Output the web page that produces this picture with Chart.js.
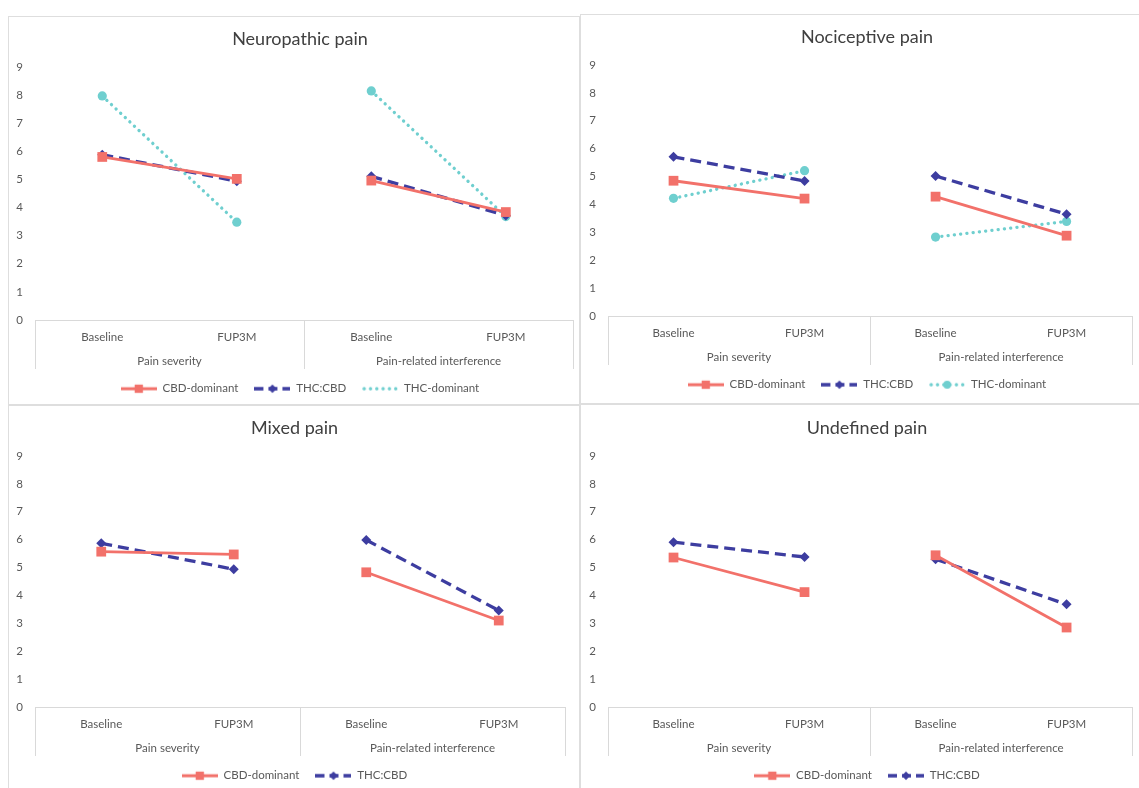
<!DOCTYPE html>
<html><head><meta charset="utf-8">
<script src="https://cdn.jsdelivr.net/npm/chart.js@4.4.1/dist/chart.umd.min.js"></script>
<style>
html,body{margin:0;padding:0;background:#fff;width:1139px;height:788px;overflow:hidden;}
.panel{position:absolute;}
.frame{position:absolute;left:0;top:0;right:0;bottom:0;border:1px solid #dedede;pointer-events:none;}
canvas{position:absolute;left:0;top:0;}
</style></head><body>
<div class="panel" style="left:8px;top:16px;width:572px;height:389px"><canvas id="c0" width="572" height="389"></canvas><div class="frame"></div></div>
<div class="panel" style="left:580px;top:14px;width:560px;height:390px"><canvas id="c1" width="559" height="390"></canvas><div class="frame"></div></div>
<div class="panel" style="left:8px;top:405px;width:572px;height:390px"><canvas id="c2" width="572" height="390"></canvas><div class="frame"></div></div>
<div class="panel" style="left:580px;top:404px;width:560px;height:390px"><canvas id="c3" width="559" height="390"></canvas><div class="frame"></div></div>
<script>
// ---- data ----
const categories = ['Baseline', 'FUP3M', 'Baseline', 'FUP3M'];
const groupLabels = ['Pain severity', 'Pain-related interference'];
const panelTitles = ['Neuropathic pain', 'Nociceptive pain', 'Mixed pain', 'Undefined pain'];
const yTicks = [0, 1, 2, 3, 4, 5, 6, 7, 8, 9];

const neuropathicCBD    = [5.80, 5.02, 4.96, 3.84];
const neuropathicTHCCBD = [5.88, 4.94, 5.11, 3.72];
const neuropathicTHC    = [7.97, 3.48, 8.15, 3.68];

const nociceptiveCBD    = [4.85, 4.21, 4.28, 2.88];
const nociceptiveTHCCBD = [5.71, 4.84, 5.02, 3.65];
const nociceptiveTHC    = [4.22, 5.21, 2.83, 3.39];

const mixedCBD    = [5.57, 5.47, 4.83, 3.10];
const mixedTHCCBD = [5.87, 4.94, 5.99, 3.46];

const undefinedCBD    = [5.36, 4.12, 5.44, 2.85];
const undefinedTHCCBD = [5.91, 5.38, 5.30, 3.68];

// ---- styles ----
const STYLE = {
  'CBD-dominant': {color: '#F2716A', dash: [], width: 2.8, cap: 'butt', point: 'rect', radius: 6.9},
  'THC:CBD':      {color: '#3D3DA0', dash: [11, 6], width: 3.3, cap: 'butt', point: 'rectRot', radius: 5},
  'THC-dominant': {color: '#6FCFCF', dash: [0.1, 6.2], width: 3.3, cap: 'round', point: 'circle', radius: 4.6}
};
const FONT = 'Lato, "Open Sans", sans-serif';
const TXT = '#595959';

const panels = [
  {title: panelTitles[0], series: [['CBD-dominant', neuropathicCBD], ['THC:CBD', neuropathicTHCCBD], ['THC-dominant', neuropathicTHC]], yw: 27, shift: 8, pad: {top: 0, right: 4, bottom: 0.5, left: 0}, legendMarkerTHC: false},
  {title: panelTitles[1], series: [['CBD-dominant', nociceptiveCBD], ['THC:CBD', nociceptiveTHCCBD], ['THC-dominant', nociceptiveTHC]], yw: 28, shift: 7.5, pad: {top: 0, right: 0, bottom: 3.5, left: 0}, legendMarkerTHC: true},
  {title: panelTitles[2], series: [['CBD-dominant', mixedCBD], ['THC:CBD', mixedTHCCBD]], yw: 27, shift: 8, pad: {top: 0, right: 15, bottom: 3.5, left: 0}, legendMarkerTHC: true},
  {title: panelTitles[3], series: [['CBD-dominant', undefinedCBD], ['THC:CBD', undefinedTHCCBD]], yw: 28, shift: 7.5, pad: {top: 1, right: 0, bottom: 2.5, left: 0}, legendMarkerTHC: true}
];

function markerPath(ctx, type, x, y, r) {
  ctx.beginPath();
  if (type === 'rect') {
    const s = r * Math.SQRT1_2;
    ctx.rect(x - s, y - s, 2 * s, 2 * s);
  } else if (type === 'rectRot') {
    ctx.moveTo(x, y - r); ctx.lineTo(x + r, y); ctx.lineTo(x, y + r); ctx.lineTo(x - r, y); ctx.closePath();
  } else {
    ctx.arc(x, y, r, 0, Math.PI * 2);
  }
}

function legendIcon(name, withMarker) {
  const st = STYLE[name];
  const c = document.createElement('canvas');
  c.width = 36; c.height = 12;
  const g = c.getContext('2d');
  g.strokeStyle = st.color; g.lineWidth = st.width; g.lineCap = st.cap;
  g.setLineDash(name === 'THC:CBD' ? [9, 5] : st.dash);
  g.beginPath(); g.moveTo(name === 'THC-dominant' ? 2 : 0, 6); g.lineTo(36, 6); g.stroke();
  if (withMarker) {
    g.setLineDash([]);
    g.fillStyle = st.color;
    markerPath(g, st.point, 18, 6, st.radius * 0.85);
    g.fill();
  }
  return c;
}

// multi-level category axis: box lines and group labels
const groupAxis = {
  id: 'groupAxis',
  afterDraw(chart) {
    const x = chart.scales.x, ctx = chart.ctx;
    const p = i => x.getPixelForValue(i);
    const half = (p(1) - p(0)) / 2;
    const bounds = [p(0) - half, (p(1) + p(2)) / 2, p(3) + half];
    ctx.save();
    ctx.strokeStyle = '#d9d9d9';
    ctx.lineWidth = 1;
    bounds.forEach(b => {
      const px = Math.min(Math.round(b) + 0.5, chart.width - 0.5);
      ctx.beginPath(); ctx.moveTo(px, x.top); ctx.lineTo(px, x.top + 49); ctx.stroke();
    });
    ctx.fillStyle = TXT;
    ctx.font = '11.5px ' + FONT;
    ctx.textAlign = 'center';
    ctx.textBaseline = 'middle';
    groupLabels.forEach((g, i) => ctx.fillText(g, (bounds[i] + bounds[i + 1]) / 2, x.top + 41));
    ctx.restore();
  }
};

// centre title and legend like the original (slightly right of canvas centre)
const shiftBlocks = {
  id: 'shiftBlocks',
  afterLayout(chart, args, opts) {
    const d = opts.shift || 0;
    [chart.titleBlock, chart.legend].forEach(b => { if (b) { b.left += d; b.right += d; } });
  }
};

panels.forEach((pn, idx) => {
  const datasets = pn.series.map(([name, values]) => {
    const st = STYLE[name];
    return {
      label: name,
      data: values,
      borderColor: st.color,
      backgroundColor: st.color,
      borderWidth: st.width,
      borderDash: st.dash,
      borderCapStyle: st.cap,
      pointStyle: st.point,
      pointRadius: st.radius,
      pointHoverRadius: st.radius,
      pointBackgroundColor: st.color,
      pointBorderColor: st.color,
      pointBorderWidth: 0,
      tension: 0,
      fill: false,
      segment: {
        borderColor: ctx => ctx.p0DataIndex === 1 ? 'rgba(0,0,0,0)' : st.color
      }
    };
  });

  new Chart(document.getElementById('c' + idx), {
    type: 'line',
    data: {labels: categories, datasets},
    plugins: [groupAxis, shiftBlocks],
    options: {
      responsive: false,
      animation: false,
      events: [],
      layout: {padding: pn.pad},
      plugins: {
        shiftBlocks: {shift: pn.shift},
        tooltip: {enabled: false},
        title: {
          display: true,
          text: pn.title,
          color: '#404040',
          font: {family: FONT, size: 18, weight: 'normal', lineHeight: 1.2},
          padding: {top: 12.2, bottom: 17.2}
        },
        legend: {
          display: true,
          position: 'bottom',
          labels: {
            usePointStyle: true,
            pointStyleWidth: 36,
            padding: 16,
            color: TXT,
            font: {family: FONT, size: 11.5},
            generateLabels: chart => chart.data.datasets.map((ds, i) => ({
              text: ds.label,
              pointStyle: legendIcon(ds.label, ds.label !== 'THC-dominant' || pn.legendMarkerTHC),
              fillStyle: ds.borderColor,
              strokeStyle: ds.borderColor,
              lineWidth: 0,
              fontColor: TXT,
              hidden: false,
              datasetIndex: i
            }))
          }
        }
      },
      scales: {
        x: {
          type: 'category',
          offset: true,
          grid: {display: false, drawTicks: false},
          border: {display: true, color: '#d9d9d9', width: 1},
          ticks: {color: TXT, font: {family: FONT, size: 11.5}, padding: 10, maxRotation: 0, autoSkip: false},
          afterFit: s => { s.height = 47; }
        },
        y: {
          min: 0,
          max: 9,
          afterBuildTicks: s => { s.ticks = yTicks.map(v => ({value: v})); },
          grid: {display: false, drawTicks: false},
          border: {display: false},
          ticks: {color: TXT, font: {family: FONT, size: 11.5}, padding: 12},
          afterFit: s => { s.width = pn.yw; }
        }
      }
    }
  });
});
</script>
</body></html>
